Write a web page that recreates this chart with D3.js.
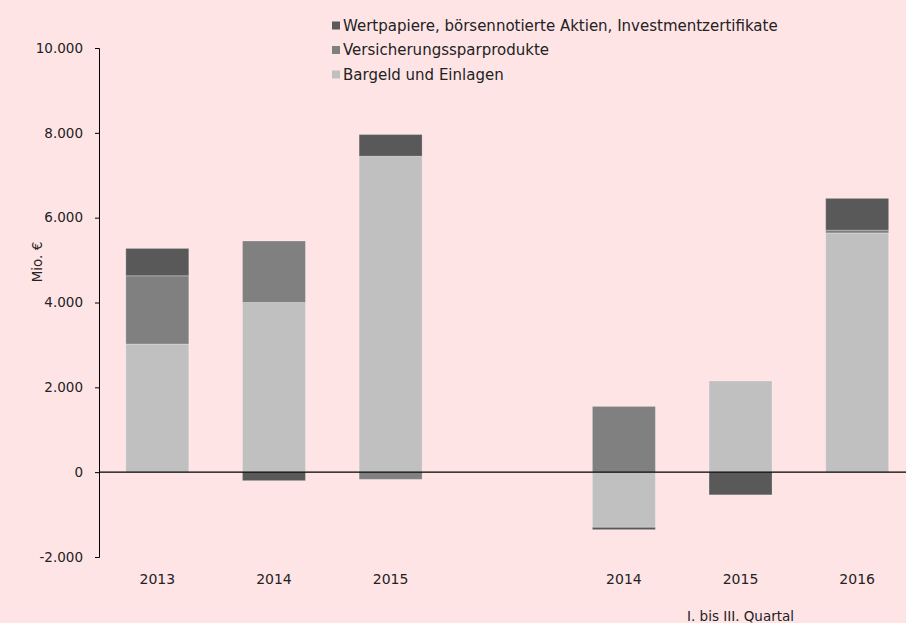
<!DOCTYPE html>
<html>
<head>
<meta charset="utf-8">
<script src="https://cdn.jsdelivr.net/npm/d3@7"></script>
<style>
	body { margin: 0; background: #ffe4e6; }
	svg { display: block; font-family: "DejaVu Sans", sans-serif; }
</style>
</head>
<body>
<div class="svg-container"></div>
<script>
(function () {

	"use strict";

	// data
	var slots 		= [ "a2013", "a2014", "a2015", "gap", "q2014", "q2015", "q2016" ];
	var labels 		= [ "2013", "2014", "2015", "", "2014", "2015", "2016" ];
	var bargeld 	= [ 3020, 4000, 7450, null, -1300, 2150, 5640 ];
	var versich 	= [ 1610, 1450, -170, null, 1550, 0, 65 ];
	var wertpap 	= [ 645, -200, 510, null, -55, -535, 750 ];
	var series_names = [ "Bargeld und Einlagen", "Versicherungssparprodukte", "Wertpapiere, börsennotierte Aktien, Investmentzertifikate" ];
	var y_ticks 	= [ -2000, 0, 2000, 4000, 6000, 8000, 10000 ];
	var note 		= "I. bis III. Quartal";

	// colors
	var colors 		= [ "#c0c0c0", "#808080", "#595959" ];
	var width 		= 906,
		height 		= 623;

	var svg = d3.select(".svg-container").append("svg")
		.attr("width", width)
		.attr("height", height);

	var x = d3.scaleBand()
		.domain(slots)
		.range([ 99, 915.5 ])
		.paddingInner(0.46)
		.paddingOuter(0.23);

	var y = d3.scaleLinear()
		.domain([ -2000, 10000 ])
		.range([ 557, 48 ]);

	// German number style, plain hyphen for negatives
	var fmt = function (d) { return d3.format(",")(d).replace(/,/g, ".").replace("\u2212", "-"); };

	// stack positive and negative parts separately
	var series = [ bargeld, versich, wertpap ];
	var rects = [];
	slots.forEach(function (s, i) {
		if (s === "gap") return;
		var pos = 0, neg = 0;
		series.forEach(function (arr, k) {
			var v = arr[i];
			if (!v) return;
			if (v > 0) { rects.push({ slot: s, k: k, y0: pos, y1: pos + v }); pos += v; }
			else { rects.push({ slot: s, k: k, y0: neg + v, y1: neg }); neg += v; }
		});
	});

	svg.append("g").selectAll("rect")
		.data(rects)
		.enter()
		.append("rect")
		.attr("x", function (d) { return x(d.slot); })
		.attr("width", x.bandwidth())
		.attr("y", function (d) { return y(d.y1); })
		.attr("height", function (d) { return y(d.y0) - y(d.y1); })
		.attr("fill", function (d) { return colors[d.k]; })
		.attr("stroke", "#ffffff")
		.attr("stroke-opacity", 0.25)
		.attr("stroke-width", 1);

	// y axis
	var yAxis = svg.append("g")
		.attr("transform", "translate(99,0)")
		.call(d3.axisLeft(y).tickValues(y_ticks).tickFormat(fmt).tickSizeOuter(0).tickSize(4).tickPadding(12));
	yAxis.selectAll("text").attr("font-size", 13.5).attr("fill", "#222").attr("font-family", "DejaVu Sans, sans-serif");
	yAxis.selectAll("line, path").attr("stroke", "#000");

	// zero line
	svg.append("line")
		.attr("x1", 99).attr("x2", width)
		.attr("y1", y(0)).attr("y2", y(0))
		.attr("stroke", "#000").attr("stroke-width", 1.3);

	// category labels
	svg.append("g").selectAll("text")
		.data(slots)
		.enter()
		.append("text")
		.attr("x", function (d) { return x(d) + x.bandwidth() / 2; })
		.attr("y", 584)
		.attr("text-anchor", "middle")
		.attr("font-size", 14)
		.attr("fill", "#222")
		.text(function (d, i) { return labels[i]; });

	svg.append("text")
		.attr("x", x("q2015") + x.bandwidth() / 2)
		.attr("y", 621)
		.attr("text-anchor", "middle")
		.attr("font-size", 13.5)
		.attr("fill", "#222")
		.text(note);

	svg.append("text")
		.attr("transform", "translate(42," + 262 + ") rotate(-90)")
		.attr("text-anchor", "middle")
		.attr("font-size", 13.5)
		.attr("fill", "#222")
		.text("Mio. €");

	// legend, top entry first
	var legend = svg.append("g").selectAll("g")
		.data([ 2, 1, 0 ])
		.enter()
		.append("g")
		.attr("transform", function (d, i) { return "translate(332," + ( 21.5 + i * 24.5 ) + ")"; });

	legend.append("rect")
		.attr("width", 8).attr("height", 8)
		.attr("fill", function (d) { return colors[d]; });

	legend.append("text")
		.attr("x", 11)
		.attr("y", 9)
		.attr("font-size", 15)
		.attr("fill", "#222")
		.text(function (d) { return series_names[d]; });

})();
</script>
</body>
</html>
